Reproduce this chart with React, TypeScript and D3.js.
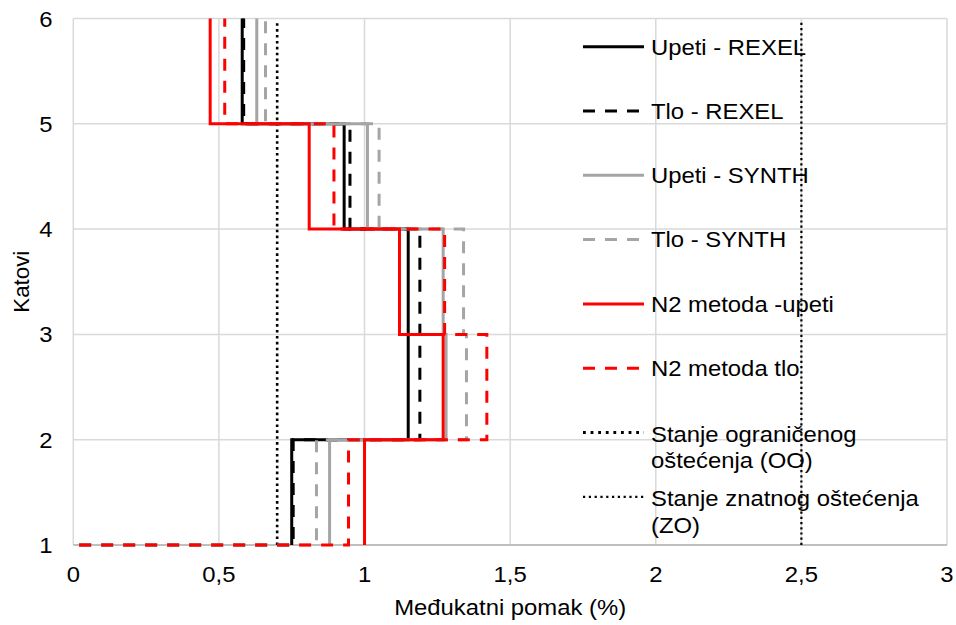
import React from "react";
import * as d3 from "d3";

// ---- data ----
const storeyLevels = [1, 2, 3, 4, 5, 6];
const upetiRexel = [0.75, 1.15, 1.15, 0.93, 0.58];
const tloRexel = [0.755, 1.19, 1.19, 0.95, 0.585];
const upetiSynth = [0.88, 1.28, 1.27, 1.01, 0.63];
const tloSynth = [0.835, 1.35, 1.34, 1.05, 0.66];
const n2Upeti = [1.0, 1.27, 1.12, 0.81, 0.47];
const n2Tlo = [0.945, 1.42, 1.275, 0.895, 0.52];
const dashedBaseStart = 0.02;
const limitOO = 0.7;
const limitZO = 2.5;
const xTicks = [0, 0.5, 1, 1.5, 2, 2.5, 3];
const yTicks = [1, 2, 3, 4, 5, 6];
const legendLabels = [
  ["Upeti - REXEL"],
  ["Tlo - REXEL"],
  ["Upeti - SYNTH"],
  ["Tlo - SYNTH"],
  ["N2 metoda -upeti"],
  ["N2 metoda tlo"],
  ["Stanje ograničenog", "oštećenja (OO)"],
  ["Stanje znatnog oštećenja", "(ZO)"],
];
const xTitle = "Međukatni pomak (%)";
const yTitle = "Katovi";

// ---- styles ----
const W = 956;
const H = 625;
const plot = { left: 73.3, right: 947, top: 18.5, bottom: 545 };
const FONT = "'Liberation Sans', Arial, Helvetica, sans-serif";
const FS = 22.3;
const SX = 1.07;
const DASH = "12 10";

type Series = {
  values: number[];
  color: string;
  dash?: string;
  width: number;
  dashed: boolean;
};

const series: Series[] = [
  { values: upetiRexel, color: "#000000", width: 3, dashed: false },
  { values: tloRexel, color: "#000000", width: 3, dashed: true, dash: DASH },
  { values: upetiSynth, color: "#a5a5a5", width: 3, dashed: false },
  { values: tloSynth, color: "#a5a5a5", width: 3, dashed: true, dash: DASH },
  { values: n2Upeti, color: "#ff0000", width: 3, dashed: false },
  { values: n2Tlo, color: "#ff0000", width: 3, dashed: true, dash: DASH },
];

const limits = [
  { value: limitOO, width: 2.6, dash: "2.6 3.3" },
  { value: limitZO, width: 2.2, dash: "2.2 3" },
];

const fmt = d3.formatLocale({
  decimal: ",",
  thousands: ".",
  grouping: [3],
  currency: ["", ""],
}).format("~g");

function stepPoints(vals: number[], dashed: boolean): [number, number][] {
  const pts: [number, number][] = [];
  if (dashed) pts.push([dashedBaseStart, storeyLevels[0]]);
  vals.forEach((v, i) => {
    pts.push([v, storeyLevels[i]]);
    pts.push([v, storeyLevels[i + 1]]);
  });
  return pts;
}

function T({ x, y, anchor = "start", children, size = FS }: any) {
  return (
    <text
      transform={`translate(${x},${y}) scale(${SX},1)`}
      textAnchor={anchor}
      fontFamily={FONT}
      fontSize={size}
      fill="#000"
    >
      {children}
    </text>
  );
}

export default function App() {
  const x = d3.scaleLinear().domain([0, 3]).range([plot.left, plot.right]);
  const y = d3.scaleLinear().domain([1, 6]).range([plot.bottom, plot.top]);
  const line = d3
    .line<[number, number]>()
    .x((d) => x(d[0]))
    .y((d) => y(d[1]));

  const legendX0 = 583;
  const legendX1 = 644;
  const legendTextX = 651;
  const legendY0 = 46.7;
  const legendStep = 64.3;
  const legendStyles = [
    ...series.map((s) => ({ color: s.color, width: s.width, dash: s.dash })),
    { color: "#000", width: 2.8, dash: "2.8 4.8" },
    { color: "#000", width: 2.2, dash: "2.2 3.6" },
  ];

  return (
    <svg
      width={W}
      height={H}
      style={{ position: "fixed", left: 0, top: 0, background: "#fff" }}
    >
      <rect x={0} y={0} width={W} height={H} fill="#fff" />
      {/* grid */}
      {xTicks.map((t) => (
        <line
          key={"gx" + t}
          x1={x(t)}
          x2={x(t)}
          y1={y(6)}
          y2={y(1)}
          stroke="#d9d9d9"
          strokeWidth={1.5}
        />
      ))}
      {yTicks.map((t) => (
        <line
          key={"gy" + t}
          x1={x(0)}
          x2={x(3)}
          y1={y(t)}
          y2={y(t)}
          stroke={t === 1 ? "#bfbfbf" : "#d9d9d9"}
          strokeWidth={t === 1 ? 2 : 1.5}
        />
      ))}
      {/* limit lines */}
      {limits.map((l, i) => (
        <line
          key={"lim" + i}
          x1={x(l.value)}
          x2={x(l.value)}
          y1={y(1)}
          y2={y(6) + 3}
          stroke="#000"
          strokeWidth={l.width}
          strokeDasharray={l.dash}
        />
      ))}
      {/* series */}
      {series.map((s, i) => (
        <path
          key={"s" + i}
          d={line(stepPoints(s.values, s.dashed)) || ""}
          fill="none"
          stroke={s.color}
          strokeWidth={s.width}
          strokeDasharray={s.dash}
          strokeLinejoin="miter"
        />
      ))}
      {/* ticks */}
      {yTicks.map((t) => (
        <T key={"ty" + t} x={52.5} y={y(t) + 8} anchor="end">
          {fmt(t)}
        </T>
      ))}
      {xTicks.map((t) => (
        <T key={"tx" + t} x={x(t)} y={582} anchor="middle">
          {fmt(t)}
        </T>
      ))}
      <T x={(plot.left + plot.right) / 2} y={615} anchor="middle">
        {xTitle}
      </T>
      <text
        transform={`translate(29,${(plot.top + plot.bottom) / 2}) rotate(-90)`}
        textAnchor="middle"
        fontFamily={FONT}
        fontSize={FS}
        fill="#000"
      >
        {yTitle}
      </text>
      {/* legend */}
      {legendLabels.map((lines, i) => {
        const ly = legendY0 + i * legendStep;
        const st = legendStyles[i];
        const multi = lines.length > 1;
        return (
          <g key={"lg" + i}>
            <line
              x1={legendX0}
              x2={legendX1}
              y1={ly}
              y2={ly}
              stroke={st.color}
              strokeWidth={st.width}
              strokeDasharray={st.dash}
            />
            {lines.map((txt, j) => (
              <T
                key={j}
                x={legendTextX}
                y={ly + (multi ? 9.4 : 7.8) + j * 26.5}
              >
                {txt}
              </T>
            ))}
          </g>
        );
      })}
    </svg>
  );
}
